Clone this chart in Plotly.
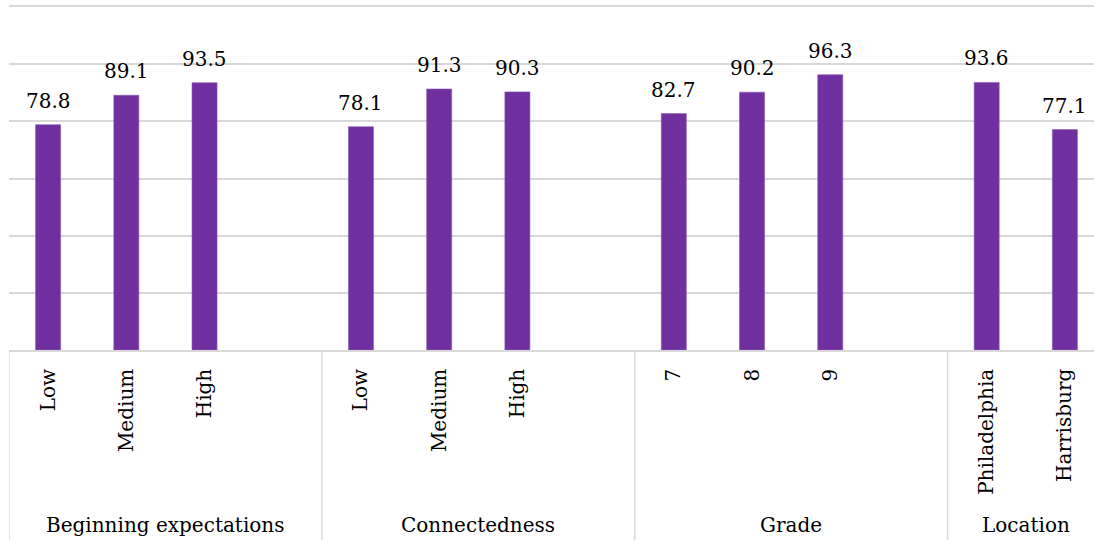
import plotly.graph_objects as go

# Survey results by subgroup
groups = ["Beginning expectations", "Connectedness", "Grade", "Location"]
subcats = [
    ["Low", "Medium", "High"],
    ["Low", "Medium", "High"],
    ["7", "8", "9"],
    ["Philadelphia", "Harrisburg"],
]
values = [
    [78.8, 89.1, 93.5],
    [78.1, 91.3, 90.3],
    [82.7, 90.2, 96.3],
    [93.6, 77.1],
]
# number of category slots each group occupies (blank slot after the first three)
group_slots = [4, 4, 4, 2]

BAR = "#7030A0"
GRID = "#D9D9D9"
FONT = "DejaVu Serif"

xs, ys, labels = [], [], []
bounds = []
offset = 0
for cats, vals, n in zip(subcats, values, group_slots):
    bounds.append(offset - 0.5)
    for i, (c, v) in enumerate(zip(cats, vals)):
        xs.append(offset + i)
        ys.append(v)
        labels.append(c)
    offset += n
bounds.append(offset - 0.5)

fig = go.Figure(
    go.Bar(
        x=xs,
        y=ys,
        width=0.32,
        marker=dict(color=BAR, line=dict(color="#8A55B5", width=0.6)),
        hoverinfo="skip",
    )
)

# value labels above bars
for x, y in zip(xs, ys):
    fig.add_annotation(
        x=x, y=y, text=f"{y:.1f}", showarrow=False,
        yanchor="bottom", yshift=10,
        font=dict(family=FONT, size=20, color="#000000"),
    )

# group separators below the axis
plot_h = 542 - 7 - 192
for b in bounds[:-1]:
    fig.add_shape(
        type="line", xref="x", yref="paper",
        x0=b, x1=b, y0=0, y1=-(540 - 350) / plot_h,
        line=dict(color=GRID, width=1.5),
    )

# group names
for g, lo, hi in zip(groups, bounds[:-1], bounds[1:]):
    fig.add_annotation(
        x=(lo + hi) / 2, y=-(525 - 350) / plot_h, xref="x", yref="paper",
        text=g, showarrow=False, yanchor="middle",
        font=dict(family=FONT, size=20, color="#000000"),
    )

fig.update_layout(
    width=1094,
    height=542,
    margin=dict(l=9, r=0, t=7, b=192),
    plot_bgcolor="white",
    paper_bgcolor="white",
    showlegend=False,
    font=dict(family=FONT, size=20, color="#000000"),
    xaxis=dict(
        range=[-0.5, bounds[-1] - 10 / 78.25],
        tickmode="array",
        tickvals=xs,
        ticktext=labels,
        tickangle=-90,
        ticklabelstandoff=9,
        showgrid=False,
        zeroline=False,
        showline=True,
        mirror=True,
        linecolor=GRID,
        linewidth=1.5,
        ticks="",
        tickfont=dict(family=FONT, size=20, color="#000000"),
    ),
    yaxis=dict(
        range=[0, 120],
        dtick=20,
        showticklabels=False,
        showgrid=True,
        gridcolor=GRID,
        gridwidth=1.5,
        zeroline=False,
        showline=False,
    ),
)

fig.write_html("out.html")
